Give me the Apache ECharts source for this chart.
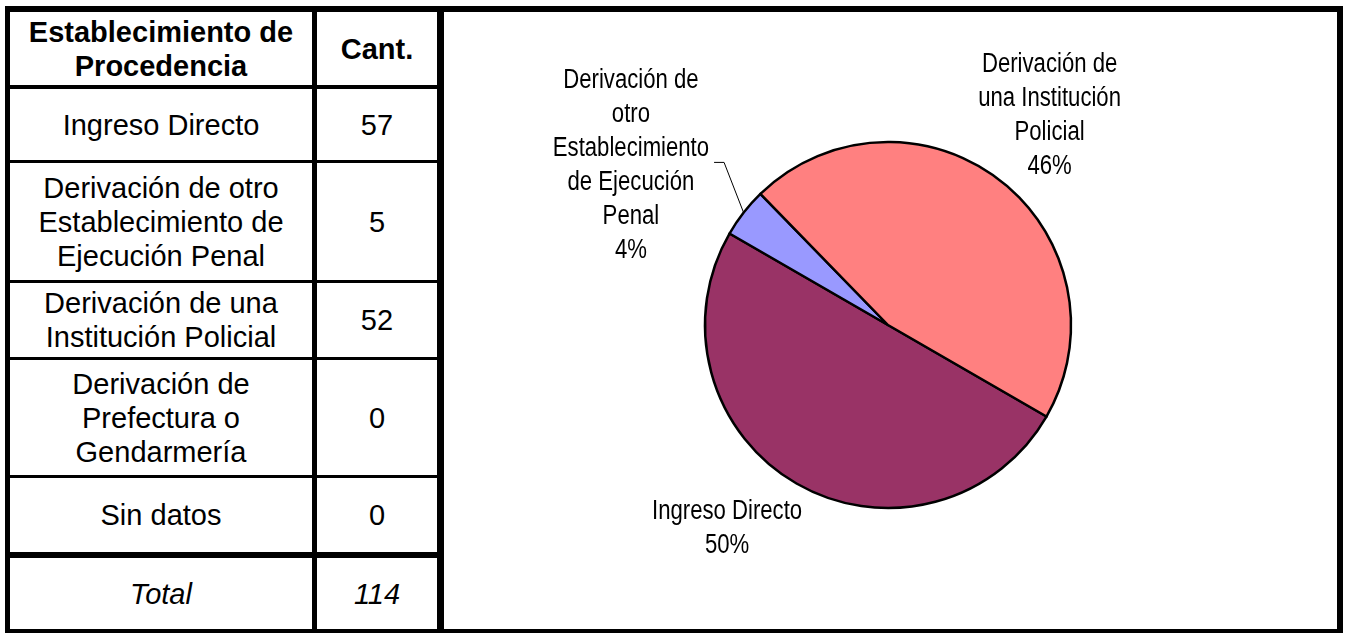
<!DOCTYPE html>
<html>
<head>
<meta charset="utf-8">
<script src="https://cdn.jsdelivr.net/npm/echarts@6/dist/echarts.min.js"></script>
<style>
  body { margin: 0; background: #fff; }
  #frame { position: absolute; left: 5px; top: 6px; width: 1338px; height: 628px; background: #000; }
  .cell {
    position: absolute; background: #fff; display: flex; align-items: center; justify-content: center;
    text-align: center; font-family: 'Liberation Sans', Arial, sans-serif; font-size: 29px; line-height: 34px; color: #000;
  }
  .head { font-weight: bold; }
  .total { font-style: italic; }
  #chart { position: absolute; left: 444px; top: 12px; width: 893px; height: 617px; background: #fff; }
</style>
</head>
<body>
<div id="frame"></div>
<div id="table"></div>
<div id="chart"></div>
<script>
  // table data
  const headers = ['Establecimiento de\nProcedencia', 'Cant.']
  const categories = [
    'Ingreso Directo',
    'Derivación de otro\nEstablecimiento de\nEjecución Penal',
    'Derivación de una\nInstitución Policial',
    'Derivación de\nPrefectura o\nGendarmería',
    'Sin datos'
  ]
  const counts = [57, 5, 52, 0, 0]
  const totalLabel = 'Total'
  const total = 114

  // pie slice labels (as wrapped in the chart)
  const sliceLabels = [
    'Ingreso Directo',
    'Derivación de\notro\nEstablecimiento\nde Ejecución\nPenal',
    'Derivación de\nuna Institución\nPolicial',
    'Derivación de\nPrefectura o\nGendarmería',
    'Sin datos'
  ]
  const sliceColors = ['#993366', '#9999ff', '#ff8080', '#ffffcc', '#ccffff']

  // cell grid (page px)
  const colX = [[10, 302], [317, 120]]
  const rowY = [[12, 73], [89, 71], [163, 117], [283, 74], [360, 115], [478, 74], [558, 71]]

  function addCell (text, col, row, cls) {
    const d = document.createElement('div')
    d.className = 'cell ' + (cls || '')
    d.style.left = colX[col][0] + 'px'
    d.style.width = colX[col][1] + 'px'
    d.style.top = rowY[row][0] + 'px'
    d.style.height = rowY[row][1] + 'px'
    d.innerHTML = text.replace(/\n/g, '<br>')
    document.getElementById('table').appendChild(d)
  }

  addCell(headers[0], 0, 0, 'head')
  addCell(headers[1], 1, 0, 'head')
  categories.forEach((c, i) => {
    addCell(c, 0, i + 1)
    addCell(String(counts[i]), 1, i + 1)
  })
  addCell(totalLabel, 0, 6, 'total')
  addCell(String(total), 1, 6, 'total')

  // pie geometry
  const cx = 444
  const cy = 313
  const r = 183
  const startAngle = 330
  // labels: radial distance factor + small nudges, narrow font faked with scaleX
  const labelK = 1.42
  const labelNudge = [[-31, -21], [-52, 0], [2, -4]]
  const labelFont = '27px "Liberation Sans", Arial, sans-serif'
  const narrow = 0.82

  const pieData = []
  const pieIdx = []
  counts.forEach((v, i) => {
    if (v > 0) {
      pieIdx.push(i)
      pieData.push({ name: sliceLabels[i], value: v, itemStyle: { color: sliceColors[i] } })
    }
  })

  const sum = pieData.reduce((a, d) => a + d.value, 0)
  const midAngles = []
  let a = startAngle
  pieData.forEach(d => {
    const span = d.value / sum * 360
    midAngles.push(a - span / 2)
    a -= span
  })

  const ctx = document.createElement('canvas').getContext('2d')
  ctx.font = labelFont

  const graphics = []
  pieData.forEach((d, j) => {
    const rad = midAngles[j] * Math.PI / 180
    const x = cx + labelK * r * Math.cos(rad) + labelNudge[j][0]
    const y = cy - labelK * r * Math.sin(rad) + labelNudge[j][1]
    const text = d.name + '\n' + Math.round(d.value / sum * 100) + '%'
    graphics.push({
      type: 'text',
      x: x,
      y: y,
      scaleX: narrow,
      silent: true,
      z: 10,
      style: {
        text: text,
        font: labelFont,
        fill: '#000',
        align: 'center',
        verticalAlign: 'middle',
        textAlign: 'center',
        textVerticalAlign: 'middle',
        lineHeight: 34
      }
    })
    // leader line for the small slice
    if (pieIdx[j] === 1) {
      const w = Math.max(...text.split('\n').map(s => ctx.measureText(s).width)) * narrow
      const right = x + w / 2
      graphics.push({
        type: 'polyline',
        silent: true,
        z: 10,
        shape: {
          points: [[right + 5, y - 3], [right + 15, y - 3], [cx + r * Math.cos(rad), cy - r * Math.sin(rad)]]
        },
        style: { stroke: '#000', lineWidth: 1, fill: null }
      })
    }
  })

  const chart = echarts.init(document.getElementById('chart'))
  chart.setOption({
    animation: false,
    graphic: graphics,
    series: [
      {
        type: 'pie',
        center: [cx, cy],
        radius: r,
        startAngle: startAngle,
        clockwise: true,
        silent: true,
        data: pieData,
        itemStyle: {
          borderColor: '#000',
          borderWidth: 2.5
        },
        label: { show: false },
        labelLine: { show: false }
      }
    ]
  })
</script>
</body>
</html>
